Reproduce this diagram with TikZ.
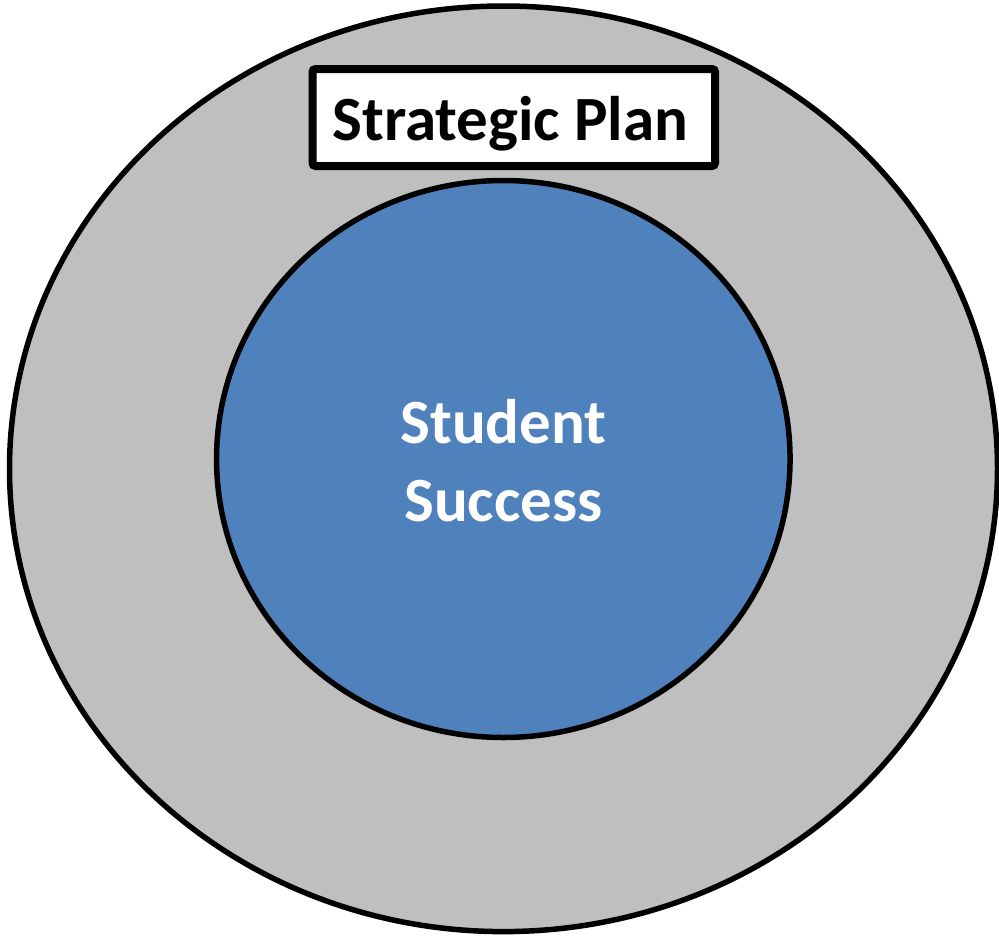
\documentclass[tikz,border=0pt]{standalone}
\usepackage{fontspec}
\setmainfont{Carlito}
\usetikzlibrary{shapes.geometric}
\definecolor{outergray}{HTML}{BFBFBF}
\definecolor{innerblue}{HTML}{4F81BD}
\tikzset{
  ring/.style={draw=black, line width=5.5pt},
  titlebox/.style={draw=black, fill=white, line width=8pt, rounded corners=3pt},
  bigtext/.style={font=\bfseries\fontsize{63}{78}\selectfont, inner sep=0pt}
}
\begin{document}
\begin{tikzpicture}[x=1pt,y=-1pt]
\useasboundingbox (0,0) rectangle (999,937);
\draw[ring, fill=outergray] (503.5,468.8) ellipse [x radius=494, y radius=462.8];
\node[ring, fill=innerblue, ellipse, minimum width=573.5pt, minimum height=557pt, inner sep=0pt] (inner) at (503.3,459) {};
\draw[titlebox] (312.5,69) rectangle (715,166);
\node[bigtext, anchor=base] (plan) at (510.5,140) {Strategic Plan};
\node[bigtext, text=white, align=center] (student) at (503.5,461) {Student\\Success};
\end{tikzpicture}
\end{document}
